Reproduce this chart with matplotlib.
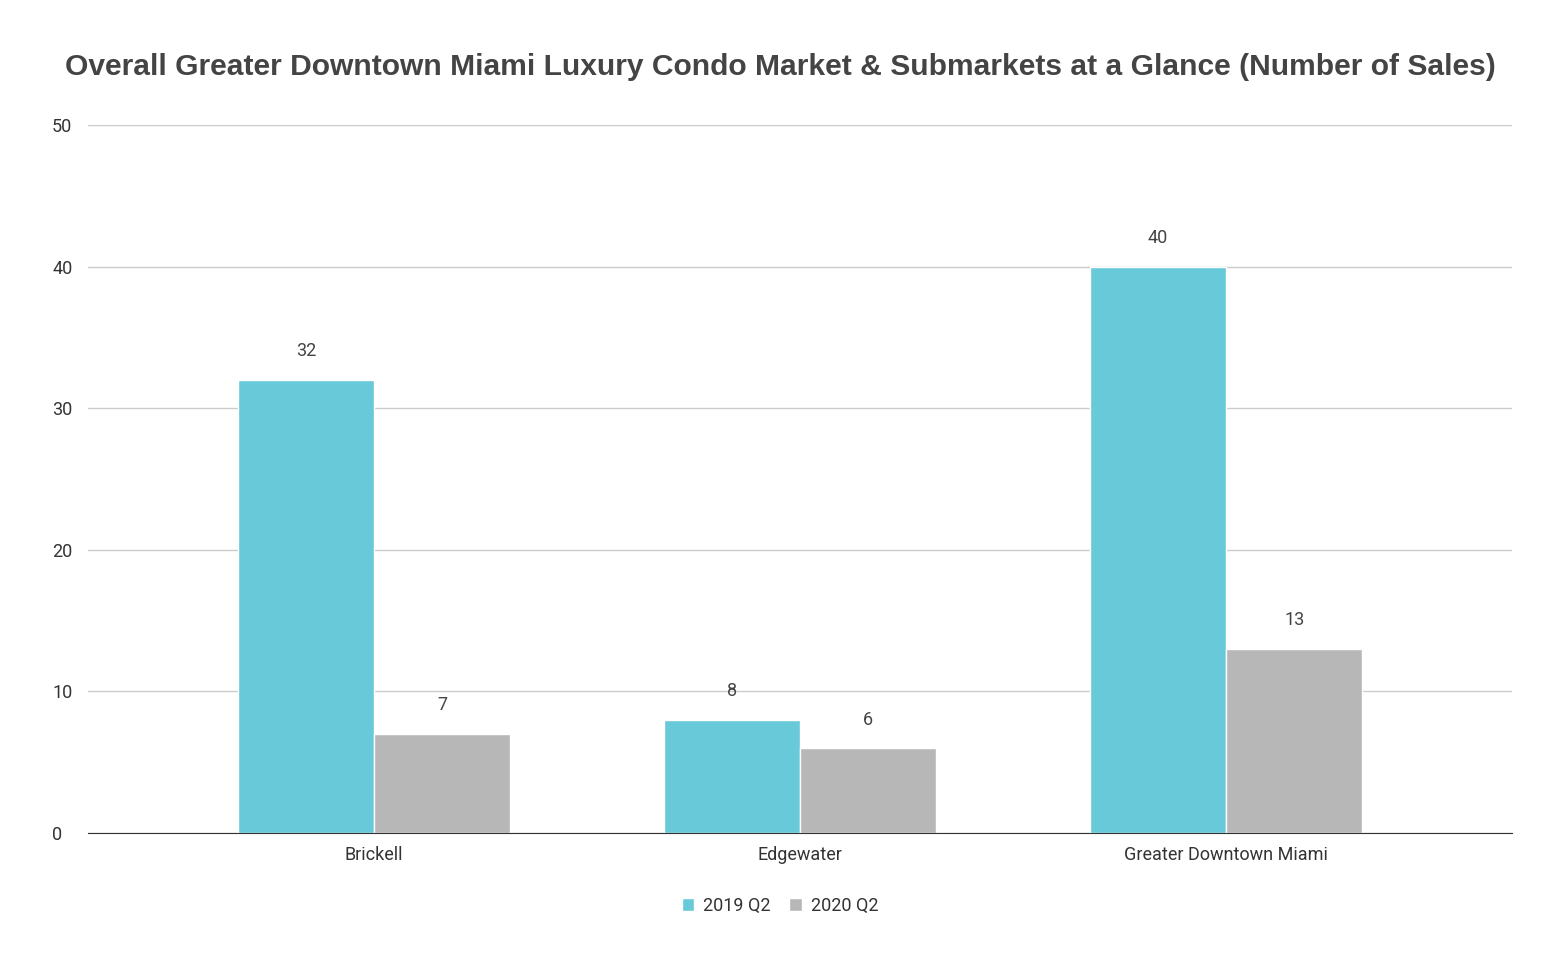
import numpy as np
import matplotlib.pyplot as plt

categories = ["Brickell", "Edgewater", "Greater Downtown Miami"]
sales_2019 = [32, 8, 40]
sales_2020 = [7, 6, 13]
series_names = ["2019 Q2", "2020 Q2"]
yticks = [0, 10, 20, 30, 40, 50]

plt.rcParams['font.family'] = ['Roboto', 'DejaVu Sans']

fig = plt.figure(figsize=(15.61, 9.65), dpi=100)
ax = fig.add_axes([88 / 1561, 1 - 833 / 965, 1424 / 1561, (833 - 125) / 965])

x = np.arange(len(categories))
w = 0.32
cyan = "#68c9d9"
grey = "#b7b7b7"
b1 = ax.bar(x - w / 2, sales_2019, w, color=cyan, edgecolor="white", linewidth=1,
            label=series_names[0], zorder=3)
b2 = ax.bar(x + w / 2, sales_2020, w, color=grey, edgecolor="white", linewidth=1,
            label=series_names[1], zorder=3)

for bars in (b1, b2):
    for rect in bars:
        h = rect.get_height()
        ax.annotate(f"{h:g}", (rect.get_x() + rect.get_width() / 2, h),
                    xytext=(0, 14), textcoords="offset points", ha="center",
                    va="bottom", fontsize=13, color="#444444")

ax.set_xlim(-0.5 - 73 / 426, 2.5 + 73 / 426)
ax.set_ylim(0, 50)
ax.set_yticks(yticks)
ax.set_xticks(x)
ax.set_xticklabels(categories)
ax.tick_params(axis="both", length=0, labelsize=13, colors="#333333")
ax.tick_params(axis="x", pad=9)
for lab in ax.get_yticklabels():
    lab.set_horizontalalignment("left")
    lab.set_x(-31 / 1424)
ax.grid(axis="y", color="#cccccc", linewidth=1, zorder=0)
for s in ["top", "right", "left"]:
    ax.spines[s].set_visible(False)
ax.spines["bottom"].set_color("#333333")
ax.spines["bottom"].set_zorder(4)

fig.text(780 / 1561, 1 - 67 / 965, "Overall Greater Downtown Miami Luxury Condo Market & Submarkets at a Glance (Number of Sales)",
         ha="center", va="center", fontsize=21.6, fontweight="bold", color="#444444",
         family=["Liberation Sans", "DejaVu Sans"])

fig.legend(handles=[b1, b2], loc="center", bbox_to_anchor=(780 / 1561, 1 - 906 / 965),
           ncol=2, frameon=False, fontsize=13, handlelength=0.7, handleheight=0.7,
           handletextpad=0.5, columnspacing=1.0, labelcolor="#333333")

fig.savefig("out.png", dpi=100, facecolor="white")
